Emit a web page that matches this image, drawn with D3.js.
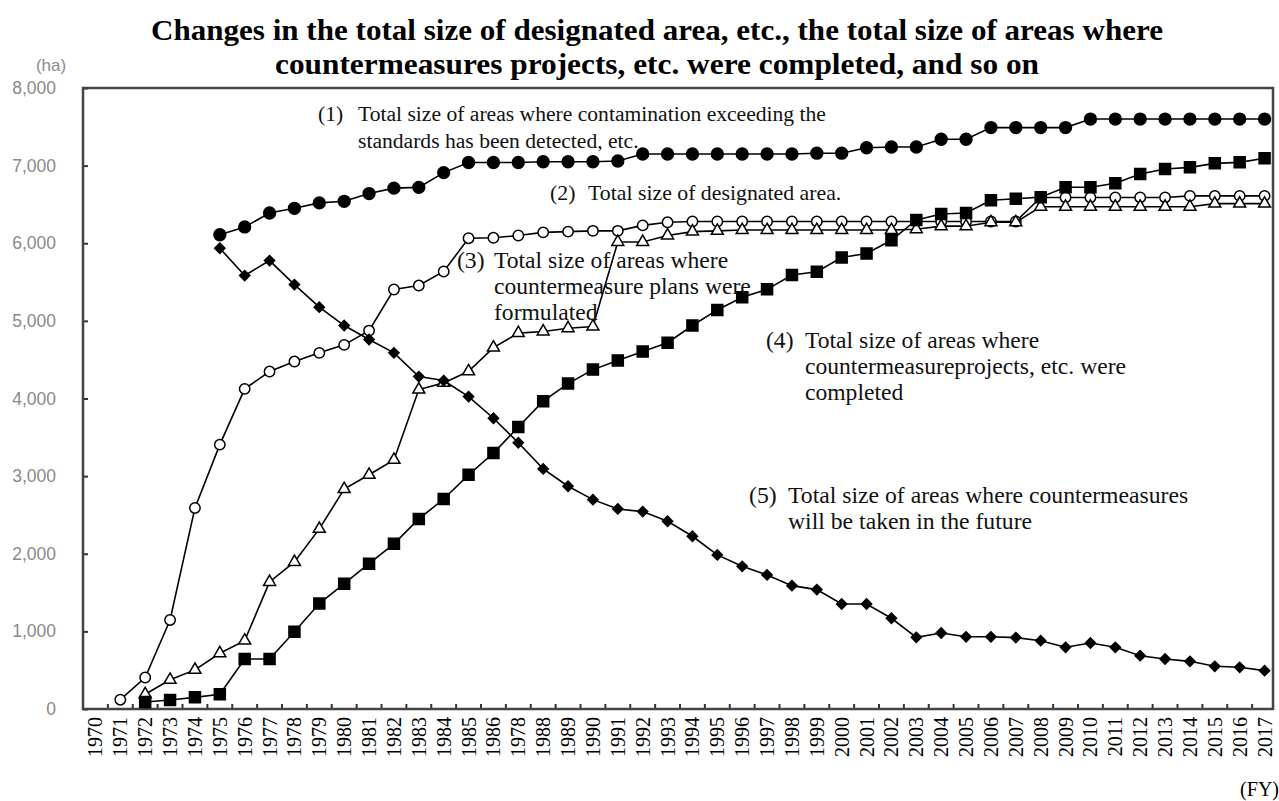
<!DOCTYPE html>
<html><head><meta charset="utf-8">
<script src="https://cdn.jsdelivr.net/npm/d3@7"></script>
<style>body{margin:0;background:#fff;} svg{display:block;}</style>
</head><body>
<svg id="chart" width="1279" height="801"></svg>
<script>
// ---------- data ----------
const years = [1970,1971,1972,1973,1974,1975,1976,1977,1978,1979,1980,1981,1982,1983,1984,1985,1986,1987,1988,1989,1990,1991,1992,1993,1994,1995,1996,1997,1998,1999,2000,2001,2002,2003,2004,2005,2006,2007,2008,2009,2010,2011,2012,2013,2014,2015,2016,2017];
const tickLabels = ["1970","1971","1972","1973","1974","1975","1976","1977","1978","1979","1980","1981","1982","1983","1984","1985","1986","1978","1988","1989","1990","1991","1992","1993","1994","1995","1996","1997","1998","1999","2000","2001","2002","2003","2004","2005","2006","2007","2008","2009","2010","2011","2012","2013","2014","2015","2016","2017"];
const yTicks = [0,1000,2000,3000,4000,5000,6000,7000,8000];

// (1) contamination exceeding standards detected
const contaminated = [null,null,null,null,null,
  6110,6210,6390,6450,6520,6540,6640,6710,6720,6910,
  7040,7040,7040,7050,7050,7050,7060,
  7150,7150,7150,7150,7150,7150,7150,
  7160,7160,7230,7240,7240,7340,7340,
  7490,7490,7490,7490,
  7600,7600,7600,7600,7600,7600,7600,7600];
// (2) designated area
const designated = [null,
  120,406,1147,2590,3406,4124,4347,4476,4588,4691,4875,5404,5455,5636,6065,6070,6100,6140,6150,6160,6160,6230,6270,
  6280,6280,6280,6280,6280,6280,6280,6280,6280,6280,6280,6280,6280,6280,
  6590,6590,6590,6590,6590,6590,
  6610,6610,6610,6610];
// (3) countermeasure plans formulated
const plans = [null,null,
  190,376,504,718,881,1637,1894,2320,2833,3017,3209,4115,4201,4350,4655,4842,4863,4906,4927,
  6017,6017,6100,6150,6160,6170,6170,6170,6170,6170,6170,6170,6180,6220,6220,6270,6270,
  6470,6470,6470,6470,6470,6470,6470,6510,6510,6510];
// (4) countermeasure projects completed
const completed = [null,null,
  90,115,150,190,645,645,996,1359,1615,1872,2128,2449,2705,3017,3298,3632,3965,4192,4372,4490,4606,4718,
  4940,5141,5304,5406,5590,5632,5817,5868,6038,6300,6376,6390,6555,6573,6594,6722,6722,6773,6893,6957,6978,7029,7042,7094];
// (5) countermeasures to be taken in the future
const future = [null,null,null,null,null,
  5936,5584,5777,5468,5176,4940,4760,4588,4282,4231,4025,3746,3430,3093,2870,2697,2577,2543,2419,2225,1985,1838,1727,1589,1538,1353,1353,1169,
  923,979,930,930,920,880,795,850,795,687,644,614,550,537,494];

// ---------- layout ----------
const svg = d3.select("#chart");
const frame = {left: 83, top: 88, right: 1273, bottom: 709};
const x = d3.scaleBand().domain(years).range([83, 1277]).padding(0);
const cx = d => x(d) + x.bandwidth() / 2;
const y = d3.scaleLinear().domain([0, 8000]).range([frame.bottom, frame.top]);

// Title
const title = svg.append("g").attr("font-family", "'Liberation Serif','Times New Roman',serif")
  .attr("font-weight", "bold").attr("font-size", 30).attr("text-anchor", "middle").attr("fill", "#000");
title.append("text").attr("x", 657).attr("y", 40)
  .attr("textLength", 1012).attr("lengthAdjust", "spacingAndGlyphs")
  .text("Changes in the total size of designated area, etc., the total size of areas where");
title.append("text").attr("x", 657).attr("y", 74)
  .attr("textLength", 764).attr("lengthAdjust", "spacingAndGlyphs")
  .text("countermeasures projects, etc. were completed, and so on");

// Y axis (ticks inward, gray labels on the left)
const yAxis = d3.axisLeft(y).tickValues(yTicks).tickSize(-5).tickPadding(27)
  .tickFormat(d3.format(","));
const gy = svg.append("g").attr("transform", `translate(${frame.left},0)`).call(yAxis);
gy.select(".domain").remove();
gy.selectAll(".tick line").attr("stroke", "#333").attr("stroke-width", 2);
gy.selectAll(".tick text").attr("font-family", "'Liberation Sans',Arial,sans-serif")
  .attr("font-size", 17.5).attr("fill", "#8a8a8a");
svg.append("text").attr("x", 51).attr("y", 71).attr("text-anchor", "middle")
  .attr("font-family", "'Liberation Sans',Arial,sans-serif").attr("font-size", 17)
  .attr("fill", "#8a8a8a").text("(ha)");

// X axis (ticks at category boundaries, inward)
const xTickScale = d3.scaleLinear().domain([0, years.length]).range(x.range());
const boundaries = d3.range(1, years.length);
svg.append("g").selectAll("line").data(boundaries).join("line")
  .attr("x1", d => xTickScale(d)).attr("x2", d => xTickScale(d))
  .attr("y1", frame.bottom).attr("y2", frame.bottom - 5)
  .attr("stroke", "#333").attr("stroke-width", 2);
const xAxis = d3.axisBottom(x).tickSize(0).tickFormat((d, i) => tickLabels[i]);
const gx = svg.append("g").attr("transform", `translate(0,${frame.bottom})`).call(xAxis);
gx.select(".domain").remove();
gx.selectAll(".tick text")
  .attr("font-family", "'Liberation Serif','Times New Roman',serif").attr("font-size", 20)
  .attr("fill", "#000").attr("text-anchor", "end")
  .attr("transform", "rotate(-90)").attr("x", -8).attr("y", 0).attr("dy", "0.35em");
svg.append("text").attr("x", 1279).attr("y", 796).attr("text-anchor", "end")
  .attr("font-family", "'Liberation Serif','Times New Roman',serif").attr("font-size", 20)
  .text("(FY)");

// Frame
svg.append("rect").attr("x", frame.left).attr("y", frame.top)
  .attr("width", frame.right - frame.left).attr("height", frame.bottom - frame.top)
  .attr("fill", "none").attr("stroke", "#444").attr("stroke-width", 2.5);

// Series
const series = [
  {values: designated, symbol: d3.symbolCircle, size: 85, fill: "#fff", rot: 0},
  {values: plans, symbol: d3.symbolTriangle, size: 62, fill: "#fff", rot: 0},
  {values: future, symbol: d3.symbolSquare, size: 52, fill: "#000", rot: 45},
  {values: contaminated, symbol: d3.symbolCircle, size: 110, fill: "#000", rot: 0},
  {values: completed, symbol: d3.symbolSquare, size: 121, fill: "#000", rot: 0}
];
const line = d3.line().defined(d => d.v != null).x(d => cx(d.year)).y(d => y(d.v));
series.forEach(s => {
  const pts = years.map((yr, i) => ({year: yr, v: s.values[i]}));
  const g = svg.append("g");
  g.append("path").datum(pts).attr("d", line).attr("fill", "none")
    .attr("stroke", "#000").attr("stroke-width", 1.6);
  g.selectAll("path.m").data(pts.filter(d => d.v != null)).join("path").attr("class", "m")
    .attr("d", d3.symbol().type(s.symbol).size(s.size))
    .attr("transform", d => `translate(${cx(d.year)},${y(d.v)}) rotate(${s.rot})`)
    .attr("fill", s.fill).attr("stroke", "#000").attr("stroke-width", 1.5);
});

// Annotations
const ann = svg.append("g").attr("font-family", "'Liberation Serif','Times New Roman',serif")
  .attr("fill", "#111");
function note(num, nx, tx, y0, lines, lh, fs) {
  ann.append("text").attr("x", nx).attr("y", y0).attr("font-size", fs).text(num);
  lines.forEach((t, i) => ann.append("text").attr("x", tx).attr("y", y0 + i * lh)
    .attr("font-size", fs).text(t));
}
note("(1)", 318, 358, 121, ["Total size of areas where contamination exceeding the", "standards has been detected, etc."], 27, 21.6);
note("(2)", 550, 588, 200, ["Total size of designated area."], 26, 21.8);
note("(3)", 457, 494, 268, ["Total size of areas where", "countermeasure plans were", "formulated"], 26, 23.6);
note("(4)", 766, 805, 348, ["Total size of areas where", "countermeasureprojects, etc. were", "completed"], 26, 23.6);
note("(5)", 749, 788, 503, ["Total size of areas where countermeasures", "will be taken in the future"], 26, 23.7);
</script>
</body></html>
